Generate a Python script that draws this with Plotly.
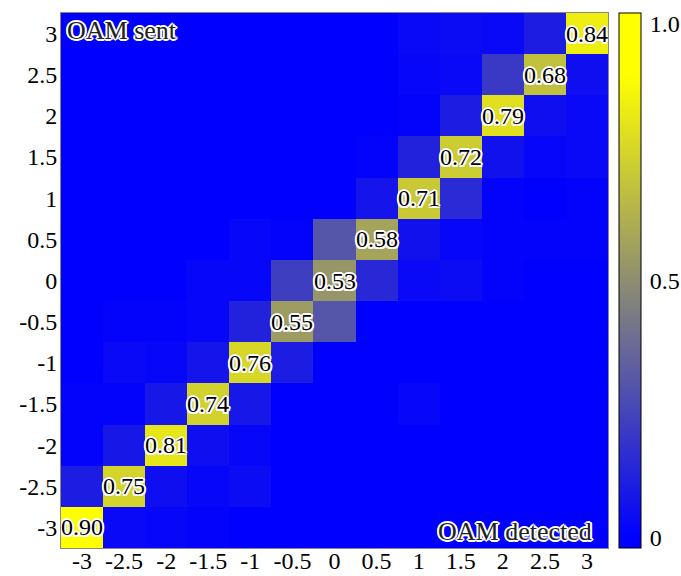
import plotly.graph_objects as go

# OAM mode values (detected on x, sent on y)
x_modes = [-3, -2.5, -2, -1.5, -1, -0.5, 0, 0.5, 1, 1.5, 2, 2.5, 3]
y_modes = [-3, -2.5, -2, -1.5, -1, -0.5, 0, 0.5, 1, 1.5, 2, 2.5, 3]
tick_labels = ["-3", "-2.5", "-2", "-1.5", "-1", "-0.5", "0", "0.5", "1", "1.5", "2", "2.5", "3"]

# rows ordered by sent mode from -3 (bottom) to 3 (top); columns by detected mode -3..3
row_m3_0 = [0.90, 0.03, 0.02, 0.01, 0.00, 0.00, 0.00, 0.00, 0.00, 0.00, 0.00, 0.00, 0.00]
row_m2_5 = [0.10, 0.75, 0.05, 0.02, 0.04, 0.00, 0.00, 0.00, 0.00, 0.00, 0.00, 0.00, 0.00]
row_m2_0 = [0.01, 0.08, 0.81, 0.05, 0.02, 0.00, 0.00, 0.00, 0.00, 0.00, 0.00, 0.00, 0.00]
row_m1_5 = [0.01, 0.01, 0.08, 0.74, 0.08, 0.00, 0.00, 0.00, 0.02, 0.00, 0.00, 0.00, 0.00]
row_m1_0 = [0.00, 0.03, 0.02, 0.07, 0.76, 0.10, 0.00, 0.00, 0.00, 0.00, 0.00, 0.00, 0.00]
row_m0_5 = [0.00, 0.01, 0.01, 0.02, 0.12, 0.55, 0.30, 0.00, 0.00, 0.00, 0.00, 0.00, 0.00]
row_p0_0 = [0.00, 0.00, 0.00, 0.02, 0.02, 0.22, 0.53, 0.14, 0.03, 0.04, 0.01, 0.00, 0.00]
row_p0_5 = [0.00, 0.00, 0.00, 0.00, 0.02, 0.01, 0.30, 0.58, 0.06, 0.02, 0.01, 0.01, 0.01]
row_p1_0 = [0.00, 0.00, 0.00, 0.00, 0.00, 0.00, 0.00, 0.07, 0.71, 0.15, 0.01, 0.00, 0.01]
row_p1_5 = [0.00, 0.00, 0.00, 0.00, 0.00, 0.00, 0.00, 0.01, 0.12, 0.72, 0.06, 0.02, 0.03]
row_p2_0 = [0.00, 0.00, 0.00, 0.00, 0.00, 0.00, 0.00, 0.00, 0.01, 0.10, 0.79, 0.05, 0.03]
row_p2_5 = [0.00, 0.00, 0.00, 0.00, 0.00, 0.00, 0.00, 0.00, 0.02, 0.03, 0.20, 0.68, 0.05]
row_p3_0 = [0.00, 0.00, 0.00, 0.00, 0.00, 0.00, 0.00, 0.00, 0.03, 0.04, 0.03, 0.10, 0.84]

z = [row_m3_0, row_m2_5, row_m2_0, row_m1_5, row_m1_0, row_m0_5, row_p0_0,
     row_p0_5, row_p1_0, row_p1_5, row_p2_0, row_p2_5, row_p3_0]

# diagonal cells are labelled with their value
text = [[(f"{v:.2f}" if i == j else "") for j, v in enumerate(row)] for i, row in enumerate(z)]

FONT = "Liberation Serif, Times New Roman, serif"
HALO = ("white 2px 0px 0px, white -2px 0px 0px, white 0px 2px 0px, white 0px -2px 0px, "
        "white 1.4px 1.4px 0px, white -1.4px -1.4px 0px, white 1.4px -1.4px 0px, white -1.4px 1.4px 0px, "
        "rgba(40,40,40,0.7) 0px 0px 3px")

zmin, zmax = -0.021, 1.021
def frac(v):
    return (v - zmin) / (zmax - zmin)

colorscale = [
    [0.0, "rgb(0,0,255)"],
    [frac(0.0), "rgb(0,0,255)"],
    [frac(0.9), "rgb(255,255,0)"],
    [1.0, "rgb(255,255,0)"],
]

fig = go.Figure(go.Heatmap(
    x=x_modes, y=y_modes, z=z,
    zmin=zmin, zmax=zmax,
    colorscale=colorscale,
    text=text, texttemplate="%{text}",
    textfont=dict(family=FONT, size=24, color="black", shadow=HALO),
    xgap=0, ygap=0,
    colorbar=dict(
        x=1.0201, xanchor="left", xpad=0,
        y=0.5, yanchor="middle", len=1, lenmode="fraction", ypad=0,
        thickness=22, thicknessmode="pixels",
        outlinecolor="black", outlinewidth=1,
        tickvals=[0, 0.5, 1.0], ticktext=["0", "0.5", "1.0"],
        ticks="outside", ticklen=4, tickcolor="rgba(0,0,0,0)",
        tickfont=dict(family=FONT, size=24, color="black"),
    ),
    hoverinfo="skip",
))

axis_common = dict(
    tickvals=x_modes, ticktext=tick_labels,
    tickfont=dict(family=FONT, size=24, color="black"),
    showgrid=False, zeroline=False, ticks="",
    showline=True, linecolor="#888", linewidth=1, mirror=True,
    range=[-3.25, 3.25], automargin=False,
)

fig.update_layout(
    width=681, height=576,
    margin=dict(l=61, r=73, t=13, b=28, autoexpand=False),
    paper_bgcolor="white", plot_bgcolor="white",
    xaxis=dict(**axis_common, ticklabelstandoff=-9),
    yaxis=dict(**axis_common, ticklabelstandoff=-2),
    font=dict(family=FONT),
    annotations=[
        dict(xref="paper", yref="paper", x=0.008, y=0.998, xanchor="left", yanchor="top",
             text="OAM sent", showarrow=False,
             font=dict(family=FONT, size=26, color="#222", shadow=HALO)),
        dict(xref="paper", yref="paper", x=0.975, y=0.0, xanchor="right", yanchor="bottom",
             text="OAM detected", showarrow=False,
             font=dict(family=FONT, size=26, color="#222", shadow=HALO)),
    ],
)

fig.write_html(
    "out.html",
    config={"displayModeBar": False},
    post_script="document.body.style.margin='0px'; document.body.style.overflow='hidden';",
)
